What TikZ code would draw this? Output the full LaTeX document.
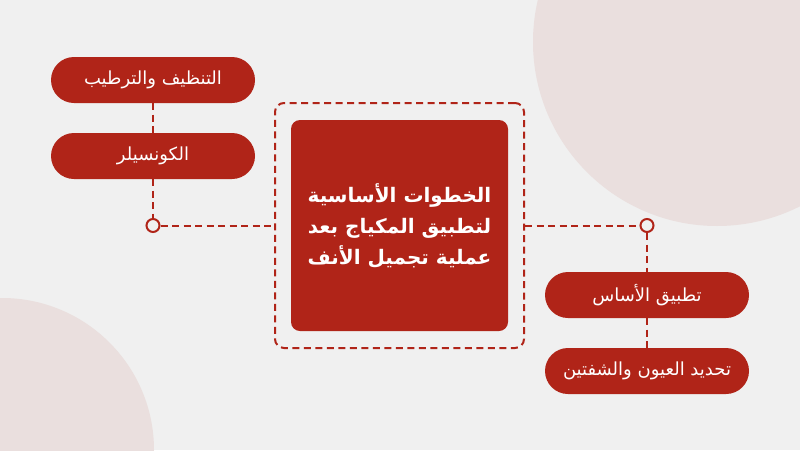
\documentclass[tikz,border=0pt]{standalone}
\usepackage{fontspec}
\TeXXeTstate=1
\newfontfamily\arabicfont[Script=Arabic]{DejaVu Sans}
\definecolor{bgc}{HTML}{F0F0F0}
\definecolor{blob}{HTML}{EADFDE}
\definecolor{brick}{HTML}{B02418}
\newcommand{\pilltxt}[1]{\raisebox{-2pt}{\beginR #1\endR}}
\tikzset{
  pill/.style={draw=none, fill=brick, rounded corners=23pt, minimum width=204pt, minimum height=46pt, inner sep=0pt, text=white, font=\arabicfont\fontsize{18pt}{21pt}\selectfont},
  dashline/.style={draw=brick, line width=2pt, dash pattern=on 7pt off 4.5pt},
  joint/.style={circle, draw=brick, fill=bgc, line width=2pt, minimum size=13pt, inner sep=0pt},
}
\begin{document}
\begin{tikzpicture}[x=1pt,y=-1pt]
\fill[bgc] (0,0) rectangle (800,450);
\useasboundingbox (0,0) rectangle (800,450);
\fill[blob] (717,42) circle (184);
\fill[blob] (2,450) circle (152);
% nodes
\node[draw=brick, line width=2pt, dash pattern=on 7pt off 4.5pt, rounded corners=9pt, minimum width=249pt, minimum height=245pt, inner sep=0pt] (outer) at (399.5,225.5) {};
\node[fill=brick, rounded corners=9pt, minimum width=217pt, minimum height=211pt, inner sep=0pt, text=white, align=center, font=\arabicfont\bfseries\fontsize{20pt}{31pt}\selectfont] (main) at (399.5,225.5) {\beginR الخطوات الأساسية\endR\\\beginR لتطبيق المكياج بعد\endR\\\beginR عملية تجميل الأنف\endR};
\node[pill] (p1) at (153,80) {\pilltxt{التنظيف والترطيب}};
\node[pill] (p2) at (153,156) {\pilltxt{الكونسيلر}};
\node[pill] (p3) at (647,295) {\pilltxt{تطبيق الأساس}};
\node[pill] (p4) at (647,371) {\pilltxt{تحديد العيون والشفتين}};
\node[joint] (j1) at (153,225.5) {};
\node[joint] (j2) at (647,225.5) {};
% connectors
\draw[dashline] (p1.south) -- (p2.north);
\draw[dashline] (p2.south) -- (j1.north);
\draw[dashline] (j1.east) -- (outer.west);
\draw[dashline] (outer.east) -- (j2.west);
\draw[dashline] (j2.south) -- (p3.north);
\draw[dashline] (p3.south) -- (p4.north);
\end{tikzpicture}
\end{document}
